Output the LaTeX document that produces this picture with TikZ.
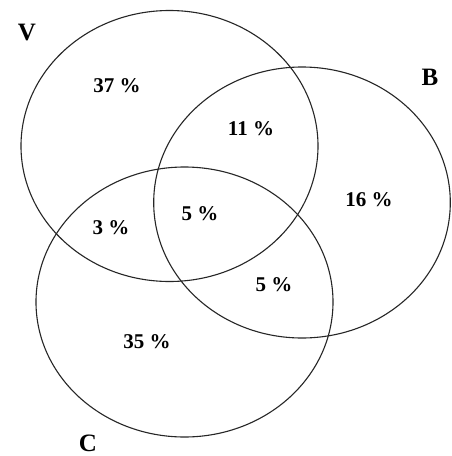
\documentclass[tikz,border=0pt]{standalone}
\usepackage{fontspec}
\setmainfont{Liberation Serif}
\begin{document}
\begin{tikzpicture}[x=1pt,y=-1pt,
  ring/.style={draw=black!85,line width=1.1pt},
  setlabel/.style={font=\fontsize{25}{25}\selectfont\bfseries,inner sep=0pt},
  pct/.style={font=\fontsize{21}{21}\selectfont\bfseries,inner sep=0pt}]
\useasboundingbox (0,0) rectangle (451,456);
\fill[white] (0,0) rectangle (451,456);
\draw[ring] (169.5,146) ellipse [x radius=148.5, y radius=135.5];
\draw[ring] (302,202.5) ellipse [x radius=148.3, y radius=135.5];
\draw[ring] (184.5,302) ellipse [x radius=148.5, y radius=135];
\node[setlabel] (V) at (27,32) {V};
\node[setlabel] (B) at (430,77) {B};
\node[setlabel] (C) at (88,443) {C};
\node[pct] (p37) at (117,86) {37 \%};
\node[pct] (p11) at (251,129) {11 \%};
\node[pct] (p16) at (369,200) {16 \%};
\node[pct] (p5a) at (200,214) {5 \%};
\node[pct] (p3) at (111,228) {3 \%};
\node[pct] (p5b) at (274,285) {5 \%};
\node[pct] (p35) at (147,342) {35 \%};
\end{tikzpicture}
\end{document}
